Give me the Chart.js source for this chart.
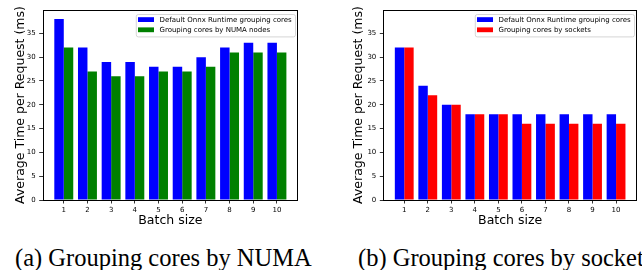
<!DOCTYPE html>
<html>
<head>
<meta charset="utf-8">
<script src="https://cdn.jsdelivr.net/npm/chart.js@4.4.1/dist/chart.umd.min.js"></script>
<style>
  body { margin: 0; background: #fff; width: 642px; height: 270px; position: relative; overflow: hidden; }
  canvas { position: absolute; top: 0; }
  .caption { position: absolute; font: 24.5px/25px "Liberation Serif", "Times New Roman", serif; color: #000; white-space: nowrap; }
</style>
</head>
<body>
<canvas id="numaChart" width="321" height="232" style="left:0"></canvas>
<canvas id="socketChart" width="321" height="232" style="left:321px"></canvas>
<div class="caption" style="left:15px; top:245px">(a) Grouping cores by NUMA</div>
<div class="caption" style="left:358px; top:245px">(b) Grouping cores by sockets</div>
<script>
  // batch sizes on the x axis
  var batchSizes = [1, 2, 3, 4, 5, 6, 7, 8, 9, 10];

  // (a) NUMA chart, ms per request
  var numaDefault = [38, 32, 29, 29, 28, 28, 30, 32, 33, 33];
  var numaGrouped = [32, 27, 26, 26, 27, 27, 28, 31, 31, 31];

  // (b) sockets chart, ms per request
  var socketDefault = [32, 24, 20, 18, 18, 18, 18, 18, 18, 18];
  var socketGrouped = [32, 22, 20, 18, 18, 16, 16, 16, 16, 16];

  var yTickStep = 5;
  var yTop = 39.9;

  function toPoints(vals) {
    return batchSizes.map(function (b, i) { return { x: b, y: vals[i] }; });
  }

  // draws the black box round the plot area (matplotlib spines)
  var framePlugin = {
    id: 'frame',
    afterDraw: function (chart) {
      var a = chart.chartArea, ctx = chart.ctx;
      ctx.save();
      ctx.strokeStyle = '#000';
      ctx.lineWidth = 1;
      ctx.strokeRect(Math.round(a.left) + 0.5, Math.round(a.top) + 0.5,
        Math.round(a.right - a.left) - 1, Math.round(a.bottom - a.top));
      ctx.restore();
    }
  };

  // legend drawn inside the plot, upper right, like matplotlib
  var insideLegend = {
    id: 'insideLegend',
    afterDraw: function (chart) {
      var a = chart.chartArea, ctx = chart.ctx;
      var sets = chart.data.datasets;
      ctx.save();
      ctx.font = '7px "DejaVu Sans"';
      var textW = 0;
      sets.forEach(function (ds) { textW = Math.max(textW, ctx.measureText(ds.label).width); });
      var w = 23.7 + textW + 3.3, h = 22.4;
      var x = a.right - 3 - w, y = a.top + 4;
      ctx.fillStyle = 'rgba(255,255,255,0.8)';
      ctx.strokeStyle = '#cccccc';
      ctx.lineWidth = 0.8;
      ctx.beginPath();
      ctx.roundRect(x + 0.5, y + 0.5, w, h, 2);
      ctx.fill();
      ctx.stroke();
      sets.forEach(function (ds, i) {
        var cy = y + 5.6 + i * 10.2;
        ctx.fillStyle = ds.backgroundColor;
        ctx.fillRect(x + 2.2, cy - 2.4, 16, 4.8);
        ctx.fillStyle = '#000';
        ctx.textBaseline = 'middle';
        ctx.fillText(ds.label, x + 23.7, cy + 0.3);
      });
      ctx.restore();
    }
  };

  function makeChart(id, defVals, grpVals, grpLabel, grpColor, padLeft, padRight, yWidth) {
    var ctx = document.getElementById(id).getContext('2d');
    return new Chart(ctx, {
      type: 'bar',
      data: {
        datasets: [{
          label: 'Default Onnx Runtime grouping cores',
          backgroundColor: '#0000ff',
          data: toPoints(defVals),
        }, {
          label: grpLabel,
          backgroundColor: grpColor,
          data: toPoints(grpVals),
        }]
      },
      options: {
        responsive: false,
        animation: false,
        events: [],
        categoryPercentage: 0.8,
        barPercentage: 1.0,
        layout: { padding: { left: padLeft, right: padRight, top: 10, bottom: 0 } },
        plugins: { legend: { display: false }, tooltip: { enabled: false } },
        scales: {
          x: {
            type: 'linear',
            offset: false,
            min: 0.11,
            max: 10.89,
            afterFit: function (scale) { scale.height = 32; },
            grid: { offset: false, drawOnChartArea: false, color: '#000', tickLength: 3.5, lineWidth: 0.8 },
            border: { display: false },
            ticks: { stepSize: 1, includeBounds: false, padding: 2, color: '#000',
                     font: { family: 'DejaVu Sans', size: 7 } },
            title: {
              display: true,
              text: 'Batch size',
              color: '#000',
              font: { family: 'DejaVu Sans', size: 12.5 },
              padding: { top: 4, bottom: 4 }
            }
          },
          y: {
            min: 0,
            max: yTop,
            afterFit: function (scale) { scale.width = yWidth; },
            grid: { drawOnChartArea: false, color: '#000', tickLength: 3.5, lineWidth: 0.8 },
            border: { display: false },
            ticks: { stepSize: yTickStep, includeBounds: false, padding: 3.5, color: '#000',
                     font: { family: 'DejaVu Sans', size: 7 } },
            title: {
              display: true,
              text: 'Average Time per Request (ms)',
              color: '#000',
              font: { family: 'DejaVu Sans', size: 12.5 },
              padding: { top: 13.5, bottom: 0 }
            }
          }
        }
      },
      plugins: [framePlugin, insideLegend]
    });
  }

  makeChart('numaChart', numaDefault, numaGrouped, 'Grouping cores by NUMA nodes', '#008000', 0, 23, 42.7);
  makeChart('socketChart', socketDefault, socketGrouped, 'Grouping cores by sockets', '#ff0000', 17, 5, 45.3);
</script>
</body>
</html>
